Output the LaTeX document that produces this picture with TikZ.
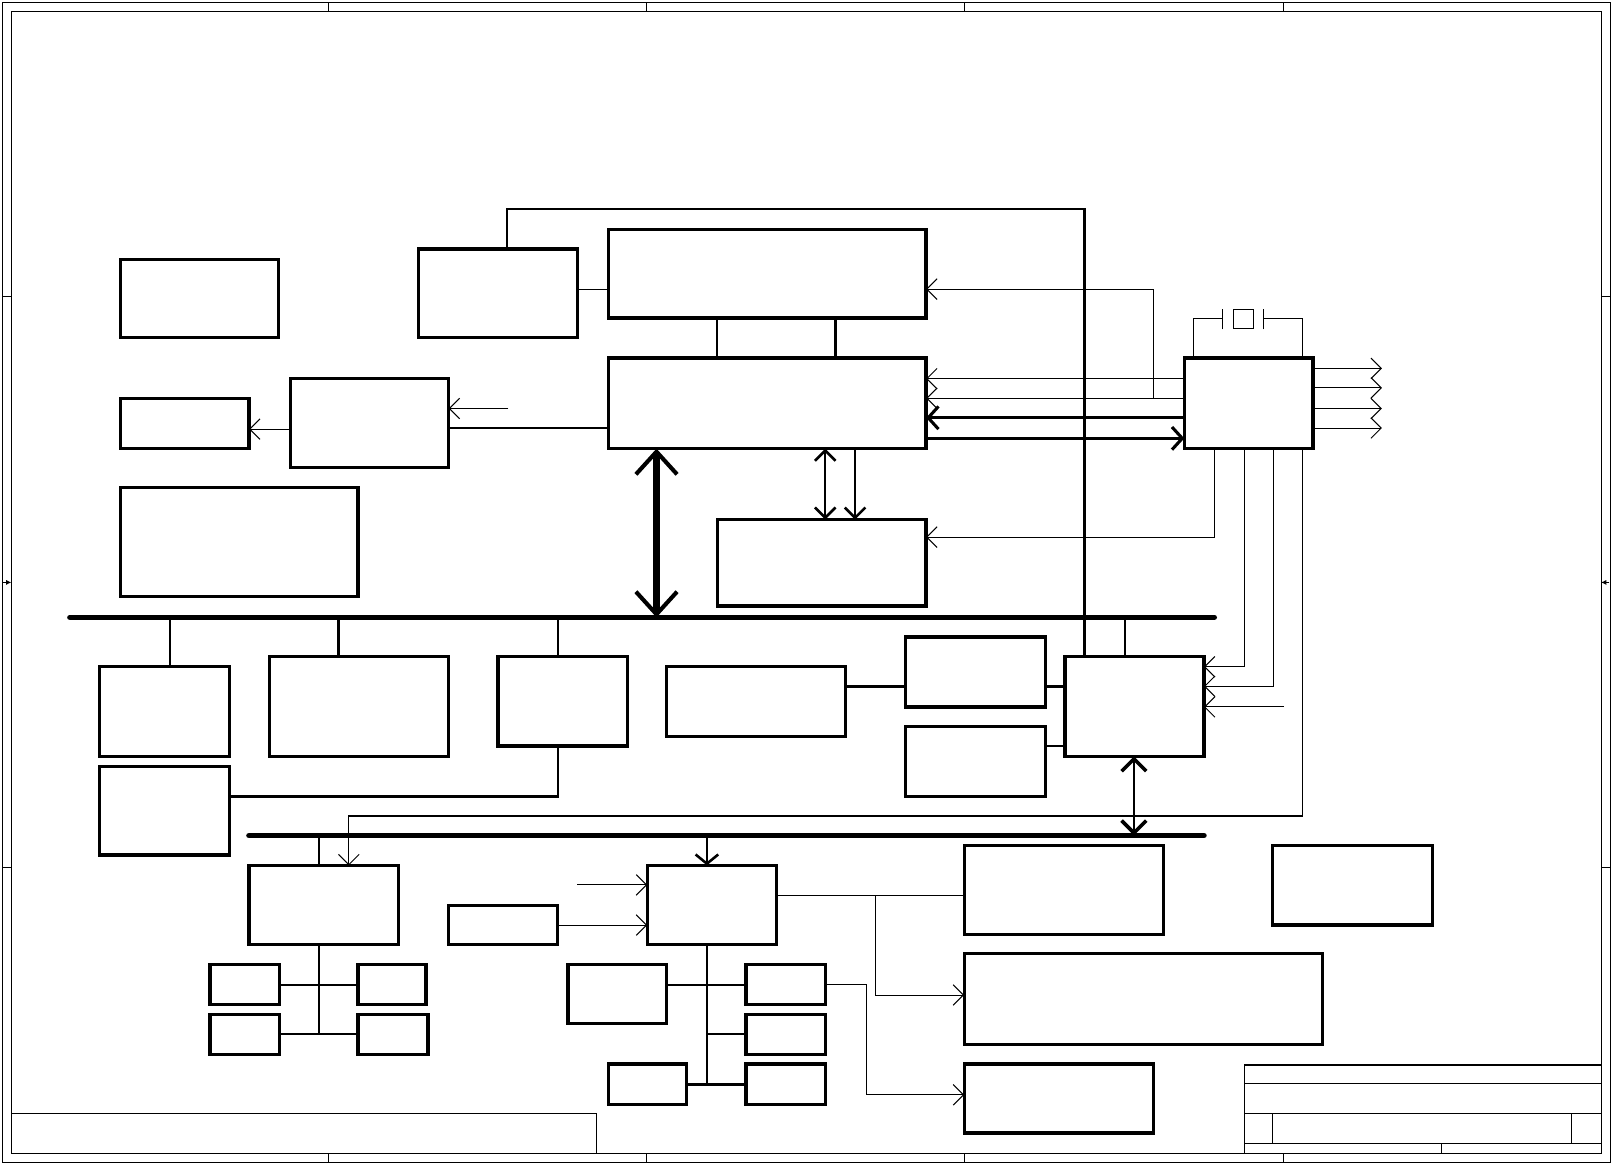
\documentclass[tikz,border=0pt]{standalone}
\usetikzlibrary{arrows.meta}
\newcommand\blk[5]{\node[box, minimum width={(#4)-(#2)}, minimum height={(#5)-(#3)}] (#1) at ({((#2)+(#4))/2},{((#3)+(#5))/2}) {};}
\begin{document}
\begin{tikzpicture}[x=1pt,y=-1pt,
  box/.style={draw, line width=3.1pt, inner sep=0pt, outer sep=0pt, rectangle},
  thin/.style={line width=1pt},
  med/.style={line width=2.3pt},
  thk/.style={line width=2.7pt},
  bus/.style={line width=5.5pt, line cap=round},
  tb/.style={-{Straight Barb[length=10pt,width=20pt]}},
  frame/.style={line width=1pt}]
\useasboundingbox (0,0) rectangle (1566.6,1131.2);
% frame
\draw[frame] (2,2) rectangle (1565,1130);
\draw[frame] (11,11) rectangle (1556,1121);
\foreach \x in {319,628,937,1247} {\draw[frame] (\x,2) -- (\x,11); \draw[frame] (\x,1121) -- (\x,1130);}
\foreach \y in {288,843} {\draw[frame] (2,\y) -- (11,\y); \draw[frame] (1556,\y) -- (1565,\y);}
\coordinate (lm0) at (3,566); \coordinate (lm1) at (11,566);
\coordinate (rm0) at (1564,566); \coordinate (rm1) at (1556,566);
\draw[frame,-{Latex[length=5pt,width=5pt]}] (lm0) -- (lm1);
\draw[frame,-{Latex[length=5pt,width=5pt]}] (rm0) -- (rm1);
% title blocks
\draw[frame] (11,1082) rectangle (580,1121);
\draw[frame] (1209,1121) -- (1209,1035) -- (1556,1035);
\draw[frame] (1209,1053) -- (1556,1053);
\draw[frame] (1209,1082) -- (1556,1082);
\draw[frame] (1209,1111) -- (1556,1111);
\draw[frame] (1237,1082) -- (1237,1111);
\draw[frame] (1527,1082) -- (1527,1111);
\draw[frame] (1401,1111) -- (1401,1121);
% boxes
\blk{A}{117}{252}{271}{328}
\blk{B}{407}{242}{561}{328}
\blk{C}{591}{223}{900}{309}
\blk{D}{591}{348}{900}{436}
\blk{E}{117}{387}{242}{436}
\blk{F}{282}{368}{436}{454}
\blk{G}{117}{474}{348}{580}
\blk{H}{697}{505}{900}{589}
\blk{K}{1151}{348}{1276}{436}
\blk{M1}{97}{648}{223}{735}
\blk{M2}{262}{638}{436}{735}
\blk{M3}{484}{638}{610}{725}
\blk{M4}{648}{648}{822}{716}
\blk{N1}{880}{619}{1016}{687}
\blk{N2}{880}{706}{1016}{774}
\blk{Q}{1035}{638}{1170}{735}
\blk{M5}{97}{745}{223}{831}
\blk{L}{242}{841}{387}{918}
\blk{S}{436}{880}{542}{918}
\blk{R}{629}{841}{755}{918}
\blk{L1}{204}{937}{272}{976}
\blk{L2}{348}{937}{414}{976}
\blk{L3}{204}{986}{272}{1025}
\blk{L4}{348}{986}{416}{1025}
\blk{R1}{552}{937}{648}{995}
\blk{R2}{725}{937}{802}{976}
\blk{R3}{725}{986}{802}{1025}
\blk{R4}{591}{1034}{667}{1073}
\blk{R5}{725}{1034}{802}{1073}
\blk{T}{937}{822}{1131}{908}
\blk{U}{937}{927}{1285}{1015}
\blk{V}{937}{1034}{1121}{1101}
\blk{W}{1237}{822}{1392}{899}
% crystal
\node[draw, thin, minimum width=19pt, minimum height=19pt, inner sep=0pt, outer sep=0pt] (xtal) at (1208.5,310) {};
\coordinate (p1) at (1188,310); \coordinate (p2) at (1228,310);
\draw[thin] (K.north -| 1160,0) |- (p1);
\draw[thin] ([yshift=-10pt]p1) -- ([yshift=10pt]p1);
\draw[thin] ([yshift=-10pt]p2) -- ([yshift=10pt]p2);
\draw[thin] (p2) -| (K.north -| 1266,0);
% top connectors
\draw[med] (B.north -| 493,0) |- (1054,203) -- (Q.north -| 1054,0);
\draw[thin] (B.east |- 0,281) -- (C.west |- 0,281);
\draw[med] (C.south -| 697,0) -- (D.north -| 697,0);
\draw[med] (C.south -| 812,0) -- (D.north -| 812,0);
\draw[thin,tb] (F.west |- 0,417) -- (E.east |- 0,417);
\coordinate (fin) at (494,397);
\draw[thin,tb] (fin) -- (F.east |- fin);
\draw[thk] (F.east |- 0,416) -- (D.west |- 0,416);
% buses
\coordinate (bus1l) at (68,600); \coordinate (bus1r) at (1180,600);
\coordinate (bus2l) at (242,812); \coordinate (bus2r) at (1170,812);
\draw[line width=6pt, {Straight Barb[length=22pt,width=40pt,line width=4pt]}-{Straight Barb[length=22pt,width=40pt,line width=4pt]}] (D.south -| 638,0) -- (bus1l -| 638,0);
\draw[med, {Straight Barb[length=10pt,width=20pt,line width=2.5pt]}-{Straight Barb[length=10pt,width=20pt,line width=2.5pt]}] (D.south -| 802,0) -- (H.north -| 802,0);
\draw[med, -{Straight Barb[length=10pt,width=20pt,line width=2.5pt]}] (D.south -| 831,0) -- (H.north -| 831,0);
% clock chip connections
\draw[thin,tb] (K.south -| 1180,0) |- (H.east |- 0,522);
\draw[thin,tb] (K.west |- 0,368) -- (D.east |- 0,368);
\draw[thin,tb] (K.west |- 0,387) -- (D.east |- 0,387);
\draw[thin,tb] (1121,387) |- (C.east |- 0,281);
\draw[thk,-{Straight Barb[length=10pt,width=22pt,line width=3pt]}] (K.west |- 0,406) -- (D.east |- 0,406);
\draw[thk,-{Straight Barb[length=10pt,width=22pt,line width=3pt]}] (D.east |- 0,426) -- (K.west |- 0,426);
\foreach \y in {358,377,397,416} {\coordinate (o\y) at (1343,\y); \draw[thin,tb] (K.east |- o\y) -- (o\y);}
\draw[thin,tb] (K.south -| 1209,0) |- (Q.east |- 0,648);
\draw[thin,tb] (K.south -| 1238,0) |- (Q.east |- 0,667);
\coordinate (qin) at (1248,687);
\draw[thin,tb] (qin) -- (Q.east |- qin);
\draw[thin,tb] (K.south -| 1266,0) |- (339,793) -- (L.north -| 339,0);
% bus 1
\draw[bus] (bus1l) -- (bus1r);
\draw[med] (bus1l -| 165,0) -- (M1.north -| 165,0);
\draw[med] (bus1l -| 329,0) -- (M2.north -| 329,0);
\draw[med] (bus1l -| 542,0) -- (M3.north -| 542,0);
\draw[med] (bus1l -| 1093,0) -- (Q.north -| 1093,0);
\draw[med] (M3.south -| 542,0) |- (M5.east |- 0,774);
\draw[thk] (M4.east |- 0,667) -- (N1.west |- 0,667);
\draw[thk] (N1.east |- 0,667) -- (Q.west |- 0,667);
\draw[thk] (N2.east |- 0,725) -- (Q.west |- 0,725);
\draw[med, {Straight Barb[length=12pt,width=24pt,line width=3.5pt]}-{Straight Barb[length=12pt,width=24pt,line width=3.5pt]}] (Q.south -| 1102,0) -- (bus2r -| 1102,0);
% bus 2
\draw[bus] (bus2l) -- (bus2r);
\draw[med] (bus2l -| 310,0) -- (L.north -| 310,0);
\draw[med, -{Straight Barb[length=9pt,width=22pt,line width=2.5pt]}] (bus2l -| 687,0) -- (R.north -| 687,0);
\draw[thin,tb] (S.east |- 0,899) -- (R.west |- 0,899);
\coordinate (rin) at (561,860);
\draw[thin,tb] (rin) -- (R.west |- rin);
% L tree
\draw[med] (L.south -| 310,0) -- (310,1005);
\draw[med] (L1.east |- 0,957) -- (L2.west |- 0,957);
\draw[med] (L3.east |- 0,1005) -- (L4.west |- 0,1005);
% R tree
\draw[med] (R.south -| 687,0) -- (687,1054);
\draw[med] (R1.east |- 0,957) -- (R2.west |- 0,957);
\draw[med] (687,1005) -- (R3.west |- 0,1005);
\draw[med] (R4.east |- 0,1054) -- (R5.west |- 0,1054);
% R outputs
\draw[thin] (R.east |- 0,870) -- (T.west |- 0,870);
\draw[thin,tb] (851,870) |- (U.west |- 0,967);
\draw[thin,tb] (R2.east |- 0,957) -| (842,1064) -- (V.west |- 0,1064);
\end{tikzpicture}
\end{document}
